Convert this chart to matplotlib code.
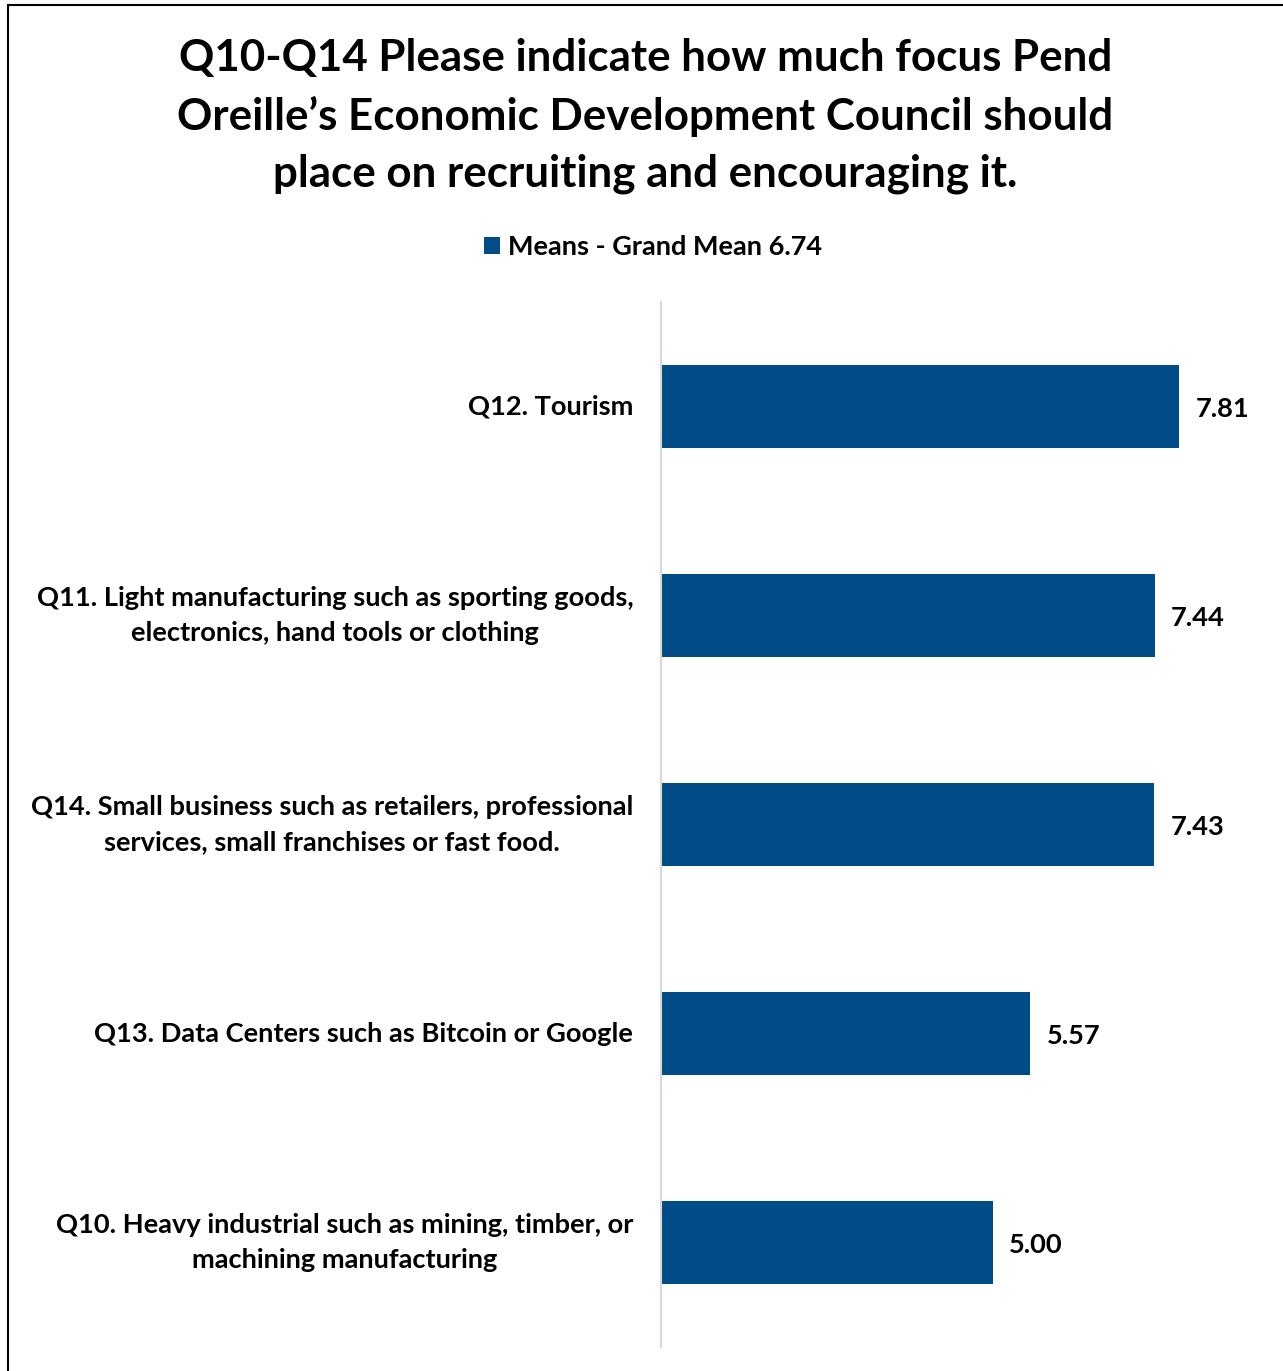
import matplotlib.pyplot as plt
from matplotlib.patches import Rectangle

plt.rcParams['font.family'] = ['Lato', 'DejaVu Sans']
plt.rcParams['font.weight'] = 'bold'

# Данные
categories = [
    "Q12. Tourism",
    "Q11. Light manufacturing such as sporting goods,\nelectronics, hand tools or clothing",
    "Q14. Small business such as retailers, professional\nservices, small franchises or fast food.",
    "Q13. Data Centers such as Bitcoin or Google",
    "Q10. Heavy industrial such as mining, timber, or\nmachining manufacturing",
]
means = [7.81, 7.44, 7.43, 5.57, 5.00]
series_name = "Means - Grand Mean 6.74"
title = ("Q10-Q14 Please indicate how much focus Pend\n"
         "Oreille\u2019s Economic Development Council should\n"
         "place on recruiting and encouraging it.")

bar_color = "#004C87"

W, H = 1283, 1371
fig = plt.figure(figsize=(W / 100, H / 100), dpi=100)
ax = fig.add_axes([661 / W, 1 - 1347 / H, 597 / W, (1347 - 302) / H])

y = list(range(len(categories)))
bars = ax.barh(y, means, height=0.4, color=bar_color, label=series_name)
ax.set_ylim(len(categories) - 0.5, -0.5)
ax.set_xlim(0, 9)

for yi, v in zip(y, means):
    ax.annotate(f"{v:.2f}", (v, yi), xytext=(12, -1.5), textcoords="offset points",
                va="center", ha="left", fontsize=19.6, fontweight="bold")

ax.set_yticks(y)
ax.set_yticklabels(categories, fontsize=19.6, fontweight="bold",
                   multialignment="center", linespacing=1.55, va="center")
ax.tick_params(axis="y", length=0, pad=20)
ax.set_xticks([])
for s in ["top", "right", "bottom"]:
    ax.spines[s].set_visible(False)
ax.spines["left"].set_color("#D9D9D9")
ax.spines["left"].set_linewidth(1.5)

fig.text(0.503, 1 - 116 / H, title, ha="center", va="center", fontsize=31.6,
         fontweight="bold", linespacing=1.52)

fig.legend(handles=[bars], labels=[series_name], loc="center",
           bbox_to_anchor=(653 / W, 1 - 247 / H), frameon=False,
           prop={"size": 19.5, "weight": "bold"}, handlelength=0.6, handleheight=0.6,
           handletextpad=0.3)

fig.patches.append(Rectangle((8 / W, -0.1), 1.2, 1 - 5 / H + 0.1, transform=fig.transFigure,
                             fill=False, edgecolor="black", linewidth=1.5))

fig.savefig("out.png", dpi=100)
